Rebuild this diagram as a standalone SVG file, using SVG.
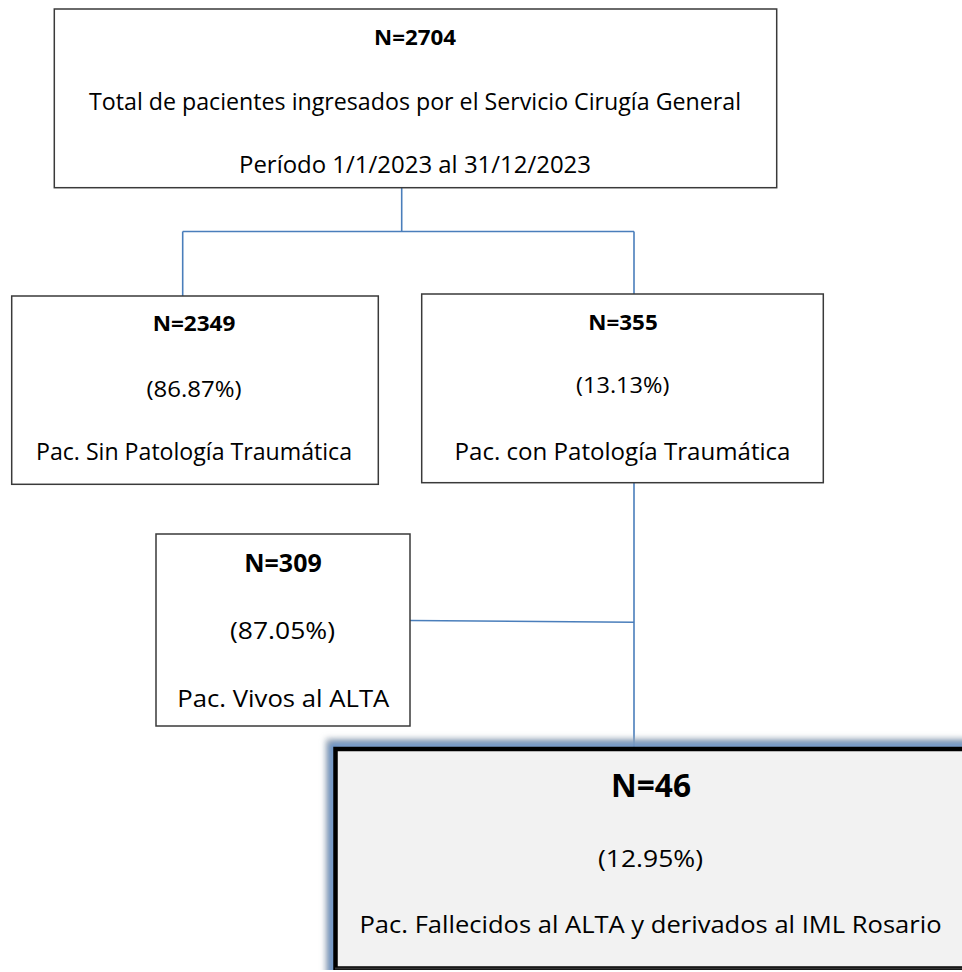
<svg xmlns="http://www.w3.org/2000/svg" width="962" height="972" viewBox="0 0 962 972">
<style>
.box{fill:#ffffff;stroke:#3a3a3a;stroke-width:1.5}
.con{stroke:#4a7ebb;stroke-width:1.6;fill:none}
text{font-family:"Open Sans","Liberation Sans",sans-serif;fill:#000;text-anchor:middle}
.b{font-weight:bold;font-size:22px}
.p{font-size:22px}
.d{font-size:24px}
</style>
<defs>
<filter id="glow" x="-10%" y="-20%" width="120%" height="140%">
<feGaussianBlur stdDeviation="3"/>
</filter>
</defs>
<rect width="962" height="972" fill="#ffffff"/>
<g id="connectors">
<line class="con" x1="401.7" y1="188" x2="401.7" y2="231.5"/>
<line class="con" x1="182.7" y1="231.5" x2="634" y2="231.5"/>
<line class="con" x1="182.7" y1="231.5" x2="182.7" y2="296"/>
<line class="con" x1="634" y1="231.5" x2="634" y2="294"/>
<line class="con" x1="634" y1="482.7" x2="634" y2="747"/>
<line class="con" x1="410" y1="620.5" x2="634" y2="622.3"/>
</g>
<g id="node-total">
<rect class="box" x="54.3" y="9" width="722.4" height="178.7"/>
<text class="b" x="415" y="45" textLength="82" lengthAdjust="spacingAndGlyphs">N=2704</text>
<text class="d" x="415" y="110" textLength="652" lengthAdjust="spacingAndGlyphs">Total de pacientes ingresados por el Servicio Cirugía General</text>
<text class="d" x="415" y="173" textLength="352" lengthAdjust="spacingAndGlyphs">Período 1/1/2023 al 31/12/2023</text>
</g>
<g id="node-sin">
<rect class="box" x="11.7" y="296" width="366.6" height="188.3"/>
<text class="b" x="194" y="331" textLength="82.7" lengthAdjust="spacingAndGlyphs">N=2349</text>
<text class="p" x="194" y="397" textLength="95" lengthAdjust="spacingAndGlyphs">(86.87%)</text>
<text class="d" x="194" y="460" textLength="316" lengthAdjust="spacingAndGlyphs">Pac. Sin Patología Traumática</text>
</g>
<g id="node-con">
<rect class="box" x="421.7" y="294" width="401.6" height="188.7"/>
<text class="b" x="623" y="330" textLength="69.4" lengthAdjust="spacingAndGlyphs">N=355</text>
<text class="p" x="622.7" y="393" textLength="93.3" lengthAdjust="spacingAndGlyphs">(13.13%)</text>
<text class="d" x="622.5" y="460" textLength="336" lengthAdjust="spacingAndGlyphs">Pac. con Patología Traumática</text>
</g>
<g id="node-vivos">
<rect class="box" x="156" y="534" width="254" height="192"/>
<text class="b" x="283" y="572" style="font-size:25px" textLength="77.4" lengthAdjust="spacingAndGlyphs">N=309</text>
<text class="d" x="282.5" y="639" textLength="105" lengthAdjust="spacingAndGlyphs">(87.05%)</text>
<text class="d" x="283.3" y="706.7" textLength="212" lengthAdjust="spacingAndGlyphs">Pac. Vivos al ALTA</text>
</g>
<g id="node-fallecidos">
<rect x="331" y="744" width="670" height="250" fill="none" stroke="#9aa6b4" stroke-width="10" filter="url(#glow)"/>
<rect x="333" y="746.5" width="665" height="245" fill="none" stroke="#5b8ccc" stroke-width="6" filter="url(#glow)"/>
<rect x="335.5" y="749" width="660" height="219.5" fill="#f2f2f2" stroke="#000" stroke-width="4.5"/>
<line x1="335" y1="968.5" x2="962" y2="968.5" stroke="#333" stroke-width="2"/>
<rect x="0" y="970" width="962" height="2" fill="#ffffff"/>
<text class="b" x="651" y="797" style="font-size:32px" textLength="80" lengthAdjust="spacingAndGlyphs">N=46</text>
<text class="d" x="650.5" y="866.5" textLength="105" lengthAdjust="spacingAndGlyphs">(12.95%)</text>
<text class="d" x="650.5" y="933" textLength="582" lengthAdjust="spacingAndGlyphs">Pac. Fallecidos al ALTA y derivados al IML Rosario</text>
</g>
</svg>
